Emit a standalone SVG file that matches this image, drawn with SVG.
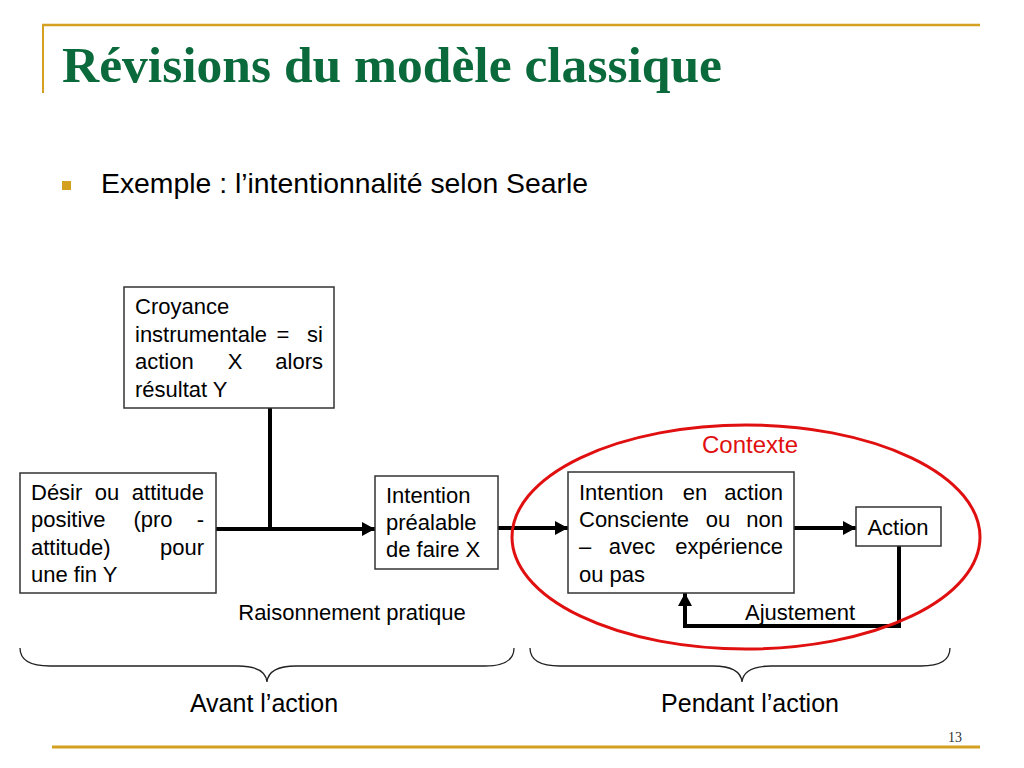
<svg xmlns="http://www.w3.org/2000/svg" width="1024" height="768" viewBox="0 0 1024 768">
<defs>
<style>
.box{fill:#fff;stroke:#333;stroke-width:1.5}
.t{font-family:"Liberation Sans",Arial,sans-serif;font-size:22px;fill:#000}
.conn{fill:none;stroke:#000;stroke-width:4}
.brace{fill:none;stroke:#222;stroke-width:1.3}
.gold{stroke:#d4a020;fill:none}
</style>
<marker id="ah" markerUnits="userSpaceOnUse" markerWidth="14" markerHeight="14" refX="13" refY="7" orient="auto">
<path d="M0,0 L13,7 L0,14 Z" fill="#000"/>
</marker>
</defs>
<rect width="1024" height="768" fill="#fff"/>
<g id="frame">
<line class="gold" x1="42" y1="25" x2="980" y2="25" stroke-width="2.5"/>
<line class="gold" x1="43" y1="24" x2="43" y2="93" stroke-width="2"/>
<line class="gold" x1="52" y1="747" x2="980" y2="747" stroke-width="3"/>
<text x="62" y="82" font-family="'Liberation Serif','Times New Roman',serif" font-weight="bold" font-size="50" fill="#0b6a3b" textLength="660" lengthAdjust="spacingAndGlyphs">Révisions du modèle classique</text>
<rect x="62" y="181" width="9" height="9" fill="#d4a020"/>
<text x="101" y="193" font-family="'Liberation Sans',Arial,sans-serif" font-size="28" fill="#000" textLength="487" lengthAdjust="spacingAndGlyphs">Exemple : l’intentionnalité selon Searle</text>
<text x="962" y="742" text-anchor="end" font-family="'Liberation Serif','Times New Roman',serif" font-size="14" fill="#333">13</text>
</g>
<g id="connectors">
<line class="conn" x1="270" y1="408" x2="270" y2="529"/>
<line class="conn" x1="216" y1="529" x2="375" y2="529" marker-end="url(#ah)"/>
<line class="conn" x1="498" y1="528" x2="568" y2="528" marker-end="url(#ah)"/>
<line class="conn" x1="794" y1="528" x2="856" y2="528" marker-end="url(#ah)"/>
<polyline class="conn" points="899,546 899,626 685,626 685,593" marker-end="url(#ah)"/>
</g>
<g id="contexte">
<ellipse cx="746" cy="537" rx="234" ry="112" fill="none" stroke="#e01010" stroke-width="3"/>
<text x="750" y="453" text-anchor="middle" font-family="'Liberation Sans',Arial,sans-serif" font-size="24" fill="#e01010">Contexte</text>
</g>
<g id="croyance">
<rect class="box" x="124" y="287" width="210" height="121"/>
<text class="t" x="135" y="314">Croyance</text>
<text class="t" y="342"><tspan x="135">instrumentale</tspan><tspan x="283" text-anchor="middle">=</tspan><tspan x="323" text-anchor="end">si</tspan></text>
<text class="t" y="369"><tspan x="135">action</tspan><tspan x="235" text-anchor="middle">X</tspan><tspan x="323" text-anchor="end">alors</tspan></text>
<text class="t" x="135" y="397">résultat Y</text>
</g>
<g id="desir">
<rect class="box" x="20" y="473" width="196" height="120"/>
<text class="t" y="500"><tspan x="31">Désir</tspan><tspan x="107" text-anchor="middle">ou</tspan><tspan x="204" text-anchor="end">attitude</tspan></text>
<text class="t" y="527"><tspan x="31">positive</tspan><tspan x="153" text-anchor="middle">(pro</tspan><tspan x="204" text-anchor="end">-</tspan></text>
<text class="t" y="555"><tspan x="31">attitude)</tspan><tspan x="204" text-anchor="end">pour</tspan></text>
<text class="t" x="31" y="582">une fin Y</text>
</g>
<g id="intention-prealable">
<rect class="box" x="375" y="476" width="123" height="93"/>
<text class="t" x="386" y="503">Intention</text>
<text class="t" x="386" y="530">préalable</text>
<text class="t" x="386" y="557">de faire X</text>
</g>
<g id="intention-action">
<rect class="box" x="568" y="472" width="226" height="121"/>
<text class="t" y="500"><tspan x="579">Intention</tspan><tspan x="695" text-anchor="middle">en</tspan><tspan x="783" text-anchor="end">action</tspan></text>
<text class="t" y="527"><tspan x="579">Consciente</tspan><tspan x="718" text-anchor="middle">ou</tspan><tspan x="783" text-anchor="end">non</tspan></text>
<text class="t" y="554"><tspan x="579">–</tspan><tspan x="632" text-anchor="middle">avec</tspan><tspan x="783" text-anchor="end">expérience</tspan></text>
<text class="t" x="579" y="582">ou pas</text>
</g>
<g id="action">
<rect class="box" x="856" y="507" width="85" height="39"/>
<text class="t" x="898" y="535" text-anchor="middle">Action</text>
</g>
<g id="labels">
<text class="t" x="352" y="620" text-anchor="middle">Raisonnement pratique</text>
<text class="t" x="800" y="620" text-anchor="middle">Ajustement</text>
</g>
<g id="braces">
<path class="brace" d="M20,648 C20,660 30,666 50,666 L238,666 C258,666 266,672 267,682 C268,672 276,666 296,666 L485,666 C505,666 514,660 514,648"/>
<path class="brace" d="M530,648 C530,660 540,666 560,666 L713,666 C733,666 741,672 742,682 C743,672 751,666 771,666 L921,666 C941,666 950,660 950,648"/>
<text x="264" y="712" text-anchor="middle" font-family="'Liberation Sans',Arial,sans-serif" font-size="25" fill="#000">Avant l’action</text>
<text x="750" y="712" text-anchor="middle" font-family="'Liberation Sans',Arial,sans-serif" font-size="25" fill="#000">Pendant l’action</text>
</g>
</svg>
